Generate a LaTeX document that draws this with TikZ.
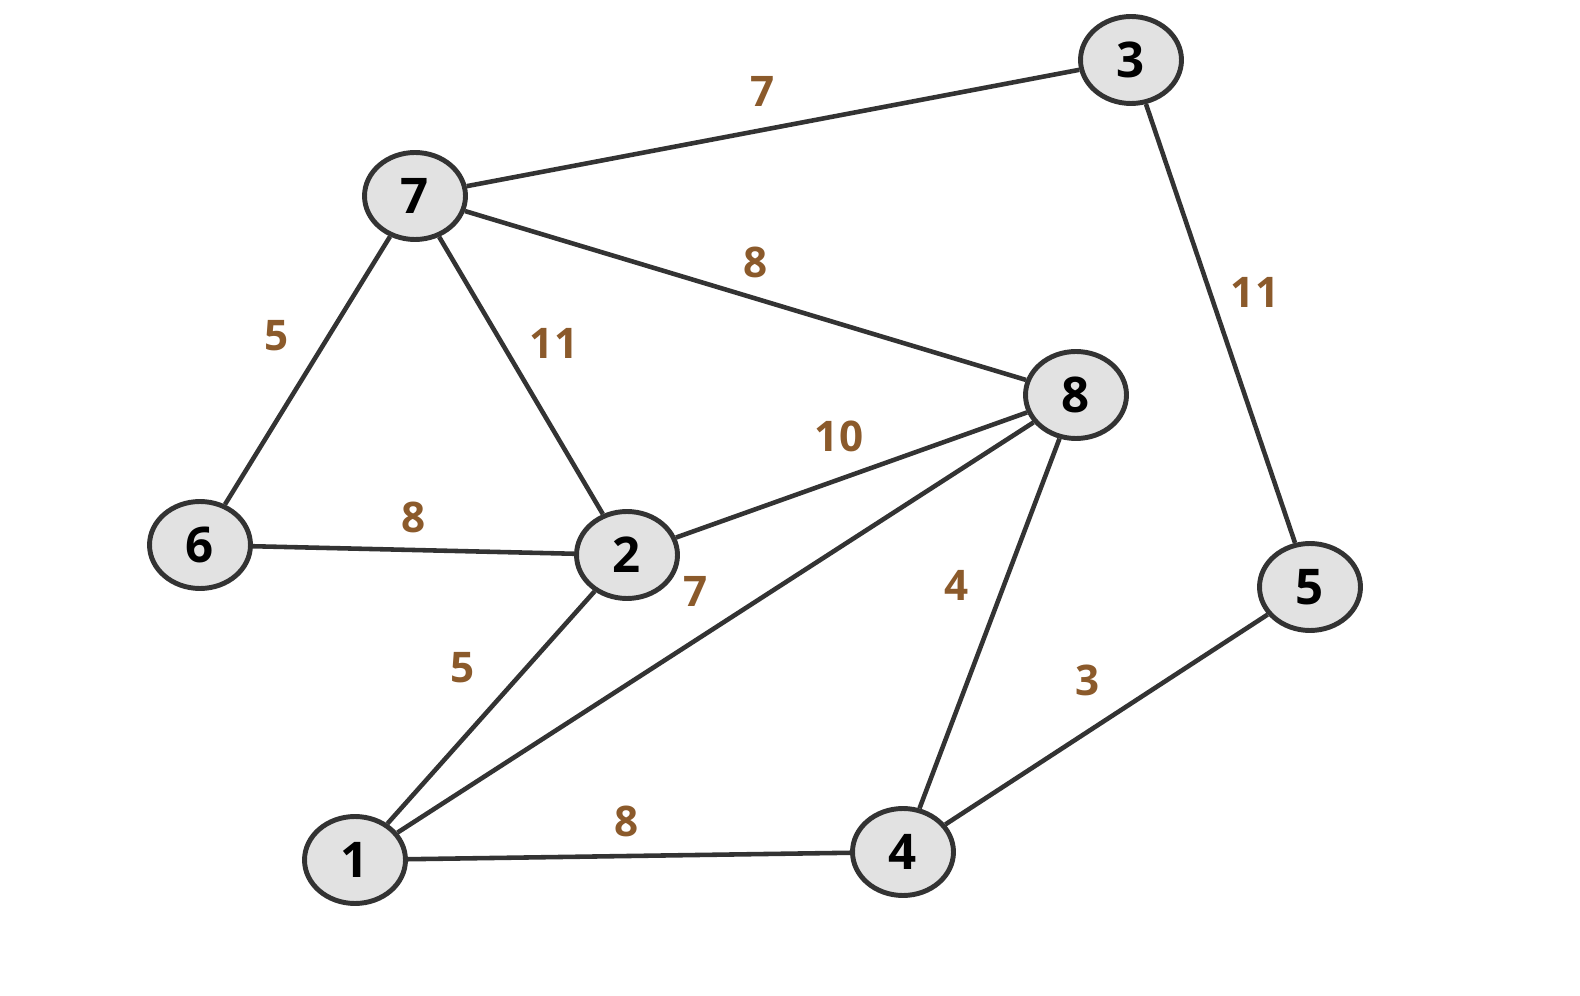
\documentclass[tikz,border=0pt]{standalone}
\usepackage{fontspec}
\setmainfont{Open Sans}
\usepackage{xcolor}
\usetikzlibrary{shapes.geometric}
\definecolor{edgegray}{HTML}{333333}
\definecolor{nodefill}{HTML}{E2E2E2}
\definecolor{weightbrown}{HTML}{8B5A2B}
\tikzset{
  vertex/.style={ellipse,draw=edgegray,fill=nodefill,line width=2.8pt,
    minimum width=2.02cm,minimum height=1.74cm,inner sep=0pt,
    font=\fontsize{28}{30}\selectfont\bfseries},
  wlabel/.style={text=weightbrown,inner sep=0pt,
    font=\fontsize{24}{28}\selectfont\bfseries},
  link/.style={draw=edgegray,line width=2.6pt}
}
\begin{document}
\begin{tikzpicture}[x=0.02cm,y=-0.02cm]
\useasboundingbox[fill=white](0,0)rectangle(1580,996);
% vertices
\node[vertex](n1)at(355,860){1};
\node[vertex](n2)at(627,555){2};
\node[vertex](n3)at(1131,60){3};
\node[vertex](n4)at(903,852){4};
\node[vertex](n5)at(1310,587){5};
\node[vertex](n6)at(200,545){6};
\node[vertex](n7)at(415,196){7};
\node[vertex](n8)at(1076,395){8};
% edges
\draw[link](n7)--(n3);
\draw[link](n7)--(n8);
\draw[link](n7)--(n6);
\draw[link](n7)--(n2);
\draw[link](n3)--(n5);
\draw[link](n6)--(n2);
\draw[link](n2)--(n8);
\draw[link](n2)--(n1);
\draw[link](n1)--(n8);
\draw[link](n8)--(n4);
\draw[link](n1)--(n4);
\draw[link](n4)--(n5);
% weights
\node[wlabel](w73)at(763,91){7};
\node[wlabel](w78)at(756,262){8};
\node[wlabel](w35)at(1255,292){11};
\node[wlabel](w76)at(277,336){5};
\node[wlabel](w72)at(554,343){11};
\node[wlabel](w28)at(839,436){10};
\node[wlabel](w62)at(414,517){8};
\node[wlabel](w18)at(696,591){7};
\node[wlabel](w84)at(957,585){4};
\node[wlabel](w21)at(463,668){5};
\node[wlabel](w45)at(1088,680){3};
\node[wlabel](w14)at(627,821){8};
\end{tikzpicture}
\end{document}
